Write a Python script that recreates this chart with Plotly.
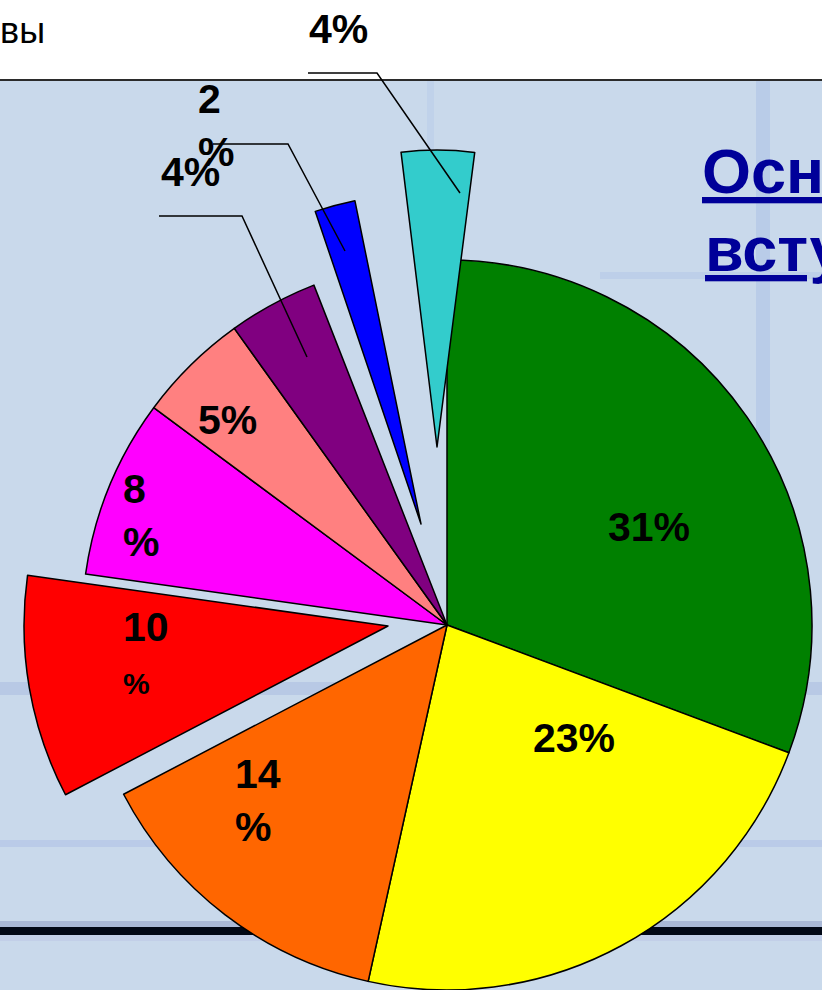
import plotly.graph_objects as go

# ---------------- data ----------------
categories = ["Сегмент 1", "Сегмент 2", "Сегмент 3", "Сегмент 4", "Сегмент 5",
              "Сегмент 6", "Сегмент 7", "Сегмент 8", "Сегмент 9"]
values = [31, 23, 14, 10, 8, 5, 4, 2, 4]
label_texts = ["31%", "23%", "14<br>%", "10<br><span style='font-size:30px'>%</span>",
               "8<br>%", "5%", "4%", "2<br>%", "4%"]
title_line1 = "Основные"
title_line2 = "вступительные"
corner_text = "вы"

# ---------------- style ----------------
W, H = 822, 990
colors = ["#008000", "#FFFF00", "#FF6600", "#FF0000", "#FF00FF",
          "#FF8080", "#800080", "#0000FF", "#33CCCC"]
BG = "#C9D9EB"
FONT = "Liberation Sans, Arial, sans-serif"


def px(x):
    return x / W


def py(y):
    return 1 - y / H


def dom(cx, cy, r):
    return dict(x=[max(0, (cx - r) / W), min(1, (cx + r) / W)],
                y=[max(0, 1 - (cy + r) / H), min(1, 1 - (cy - r) / H)])


# pie layers: which slices each layer shows, centre (px), radius (px), rotation
layers = [
    dict(show=[0, 1, 2, 4, 5, 6], cx=447, cy=625, r=365, rot=0),   # main pie
    dict(show=[3], cx=388, cy=626, r=364, rot=0),                  # exploded red
    dict(show=[7], cx=421, cy=524, r=330, rot=2.7),                # exploded blue
    dict(show=[8], cx=437, cy=447, r=297, rot=7.3),                # exploded cyan
]

fig = go.Figure()
n = len(values)
for L in layers:
    cols = [colors[i] if i in L["show"] else "rgba(0,0,0,0)" for i in range(n)]
    lw = [1.5 if i in L["show"] else 0 for i in range(n)]
    fig.add_trace(go.Pie(
        values=values, labels=categories, sort=False, direction="clockwise",
        rotation=L["rot"], textinfo="none", hoverinfo="skip", showlegend=False,
        marker=dict(colors=cols, line=dict(color="black", width=lw)),
        domain=dom(L["cx"], L["cy"], L["r"]),
    ))

# label placement (pixel positions of text boxes)
label_pos = [
    dict(x=649, y=527, xa="center"),
    dict(x=574, y=738, xa="center"),
    dict(x=233, y=800, xa="left"),
    dict(x=121, y=652, xa="left"),
    dict(x=121, y=515, xa="left"),
    dict(x=227, y=420, xa="center"),
    dict(x=190, y=172, xa="center"),
    dict(x=196, y=126, xa="left"),
    dict(x=338, y=29, xa="center"),
]
annotations = []
for txt, p in zip(label_texts, label_pos):
    annotations.append(dict(
        text="<b>" + txt + "</b>", x=px(p["x"]), y=py(p["y"]), xref="paper", yref="paper",
        xanchor=p["xa"], yanchor="middle", align="left", showarrow=False,
        font=dict(family=FONT, size=41, color="black"),
    ))

# title (cut off by the right edge) and corner text
annotations.append(dict(text="<b><u>" + title_line1 + "</u></b>", x=px(700), y=py(171),
                        xref="paper", yref="paper", xanchor="left", yanchor="middle",
                        showarrow=False, font=dict(family=FONT, size=63, color="#000099")))
annotations.append(dict(text="<b><u>" + title_line2 + "</u></b>", x=px(703), y=py(249),
                        xref="paper", yref="paper", xanchor="left", yanchor="middle",
                        showarrow=False, font=dict(family=FONT, size=63, color="#000099")))
annotations.append(dict(text=corner_text, x=px(47), y=py(31),
                        xref="paper", yref="paper", xanchor="right", yanchor="middle",
                        showarrow=False, font=dict(family=FONT, size=36, color="black")))

shapes = []


def rect(x0, y0, x1, y1, color, layer="below"):
    shapes.append(dict(type="rect", xref="paper", yref="paper",
                       x0=px(x0), x1=px(x1), y0=py(y1), y1=py(y0),
                       fillcolor=color, line=dict(width=0), layer=layer))


# slide background
rect(0, 81, W, H, BG)
rect(756, 81, 770, 700, "#B9CCE8")
rect(427, 81, 434, 260, "#C0D2EA")
rect(600, 272, W, 279, "#BDCFE9")
rect(0, 682, W, 695, "#B8C9E5")
rect(0, 840, W, 847, "#BACBE8")
rect(0, 921, W, 927, "#A9B8D6")
rect(0, 927, W, 935, "#020816")
rect(0, 935, W, 941, "#C2CFE8")
shapes.append(dict(type="line", xref="paper", yref="paper", x0=0, x1=1,
                   y0=py(80), y1=py(80), line=dict(color="#2B2B2B", width=2), layer="below"))

# leader lines for the outside labels
leaders = [
    [(308, 73), (377, 73), (460, 193)],
    [(213, 144), (288, 144), (345, 251)],
    [(159, 216), (242, 216), (307, 357)],
]
for pts in leaders:
    path = "M " + " L ".join(f"{px(x):.5f},{py(y):.5f}" for x, y in pts)
    shapes.append(dict(type="path", xref="paper", yref="paper", path=path,
                       line=dict(color="black", width=1.5), layer="above"))

fig.update_layout(
    width=W, height=H, margin=dict(l=0, r=0, t=0, b=0),
    paper_bgcolor="white", plot_bgcolor="white",
    annotations=annotations, shapes=shapes, showlegend=False,
)

fig.write_html("out.html", config={"displayModeBar": False, "staticPlot": True},
               post_script="document.body.style.margin='0';document.body.style.overflow='hidden';")
